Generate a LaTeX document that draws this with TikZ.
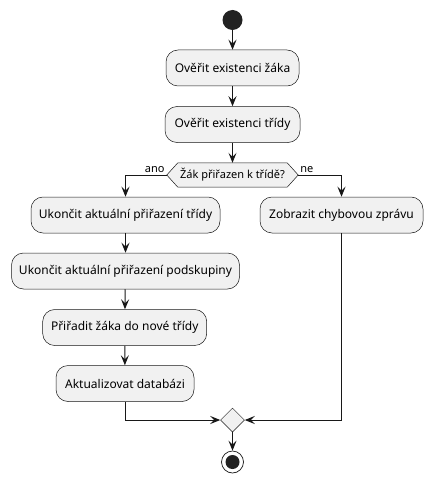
\documentclass[tikz,border=0pt]{standalone}
\usepackage{fontspec}
\setmainfont{Noto Sans}
\usetikzlibrary{arrows.meta,shapes.geometric}
\definecolor{boxfill}{HTML}{F1F1F1}
\definecolor{lineclr}{HTML}{181818}
\definecolor{startclr}{HTML}{222222}
\tikzset{
  actbox/.style={draw=lineclr, line width=0.5pt, fill=boxfill, rounded corners=12pt,
    minimum height=36pt, inner sep=0pt, font=\fontsize{12}{14}\selectfont, text=black},
  arr/.style={draw=lineclr, line width=1pt, -{Stealth[length=10pt,width=8pt,inset=4pt]}},
  conn/.style={draw=lineclr, line width=1pt},
  lbl/.style={font=\fontsize{11}{13}\selectfont, inner sep=1pt, text=black}
}
\begin{document}
\begin{tikzpicture}[x=1pt,y=-1pt]
\useasboundingbox (0,0) rectangle (432,484);
\node[circle, fill=startclr, minimum size=20pt, inner sep=0pt] (start) at (232.5,20) {};
\node[actbox, minimum width=133pt] (b1) at (232.5,68) {Ověřit existenci žáka};
\node[actbox, minimum width=135pt] (b2) at (232.5,124.5) {Ověřit existenci třídy};
\node[minimum width=131pt, minimum height=24pt, inner sep=0pt, font=\fontsize{11}{13}\selectfont] (dec) at (232.5,175) {};
\fill[boxfill] (dec.west) -- ([xshift=11pt]dec.north west) -- ([xshift=-11pt]dec.north east) -- (dec.east) -- ([xshift=-11pt]dec.south east) -- ([xshift=11pt]dec.south west) -- cycle;
\draw[lineclr, line width=0.5pt] (dec.west) -- ([xshift=11pt]dec.north west) -- ([xshift=-11pt]dec.north east) -- (dec.east) -- ([xshift=-11pt]dec.south east) -- ([xshift=11pt]dec.south west) -- cycle;
\node[font=\fontsize{11}{13}\selectfont, inner sep=0pt] (dectext) at (dec.center) {Žák přiřazen k třídě?};
\node[actbox, minimum width=189pt] (b3) at (125.5,215) {Ukončit aktuální přiřazení třídy};
\node[actbox, minimum width=163pt] (bz) at (341.5,215) {Zobrazit chybovou zprávu};
\node[actbox, minimum width=228pt] (b4) at (125.5,271) {Ukončit aktuální přiřazení podskupiny};
\node[actbox, minimum width=164pt] (b5) at (124.7,327.5) {Přiřadit žáka do nové třídy};
\node[actbox, minimum width=138pt] (b6) at (125,383.5) {Aktualizovat databázi};
\node[diamond, draw=lineclr, line width=0.5pt, fill=boxfill, minimum width=24pt, minimum height=24pt, inner sep=0pt] (merge) at (232.5,420) {};
\node[circle, draw=lineclr, line width=0.7pt, fill=white, minimum size=22pt, inner sep=0pt] (end) at (232.5,462) {};
\node[circle, fill=startclr, minimum size=14pt, inner sep=0pt] (endin) at (end.center) {};
\draw[arr] (start) -- (b1);
\draw[arr] (b1) -- (b2);
\draw[arr] (b2) -- (dec.north);
\draw[arr] (dec.west) -| (b3.north);
\draw[arr] (dec.east) -| (bz.north);
\node[lbl, anchor=south east] (ano) at ([xshift=-1pt,yshift=1pt]dec.west) {ano};
\node[lbl, anchor=south west] (ne) at ([xshift=1pt,yshift=1pt]dec.east) {ne};
\draw[arr] (b3) -- (b4);
\draw[arr] (b4) -- (b5);
\draw[arr] (b5) -- (b6);
\draw[arr] (b6.south) |- (merge.west);
\draw[arr] (bz.south) |- (merge.east);
\draw[arr] (merge.south) -- (end);
\end{tikzpicture}
\end{document}
